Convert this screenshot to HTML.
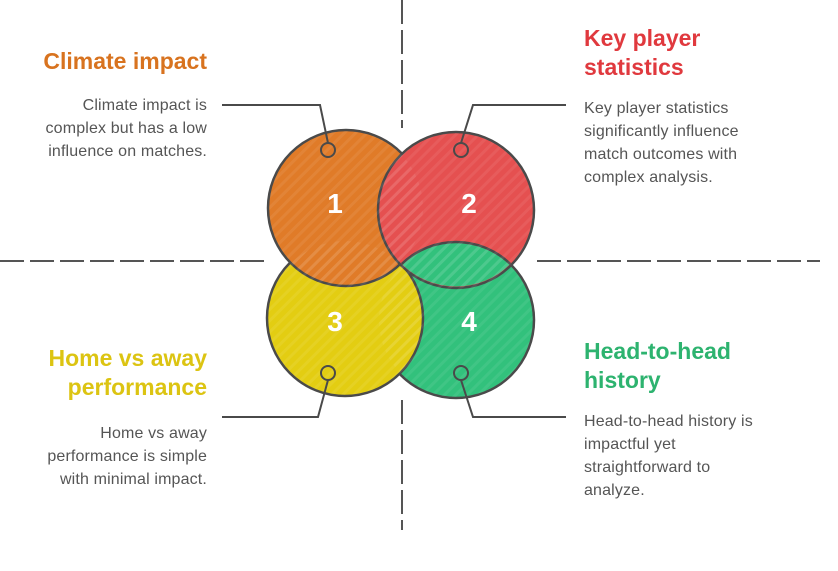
<!DOCTYPE html>
<html><head><style>
body{margin:0;background:#fff;width:838px;height:571px;overflow:hidden;position:relative;font-family:"Liberation Sans",Arial,sans-serif}
.t{position:absolute;font-weight:bold;font-size:23px;line-height:29px}
.b{position:absolute;font-size:16px;line-height:23px;color:#555;letter-spacing:0.15px;white-space:nowrap}
.r{text-align:right}
</style></head><body>
<svg width="838" height="571" style="position:absolute;left:0;top:0">
<defs>
<pattern id="st" width="8" height="8" patternUnits="userSpaceOnUse" patternTransform="rotate(-45)">
<rect width="8" height="3" fill="rgba(255,255,255,0.07)"/></pattern>
<clipPath id="c2"><circle cx="456" cy="210" r="76.5"/></clipPath>
</defs>
<g stroke="#555" stroke-width="2" stroke-dasharray="24,6" fill="none">
<line x1="402" y1="0" x2="402" y2="128"/>
<line x1="402" y1="400" x2="402" y2="530"/>
<line x1="0" y1="261" x2="270" y2="261"/>
<line x1="537" y1="261" x2="820" y2="261"/>
</g>
<g stroke="#4a4a4a" stroke-width="2.5">
<circle cx="456" cy="320" r="78" fill="#32c17c"/>
<circle cx="345" cy="318" r="78" fill="#e3cd12"/>
<circle cx="346" cy="208" r="78" fill="#e07b28"/>
<circle cx="456" cy="210" r="78" fill="#e55050"/>
<circle cx="456" cy="320" r="78" fill="#32c17c" clip-path="url(#c2)"/>
</g>
<g fill="url(#st)">
<circle cx="345" cy="318" r="77"/><circle cx="346" cy="208" r="77"/><circle cx="456" cy="210" r="77"/><circle cx="456" cy="320" r="77"/>
</g>
<g stroke="#4a4a4a" stroke-width="2" fill="none">
<polyline points="328,143 320,105 222,105"/>
<polyline points="461,143 473,105 566,105"/>
<polyline points="328,380 318,417 222,417"/>
<polyline points="461,380 473,417 566,417"/>
<circle cx="328" cy="150" r="7"/><circle cx="461" cy="150" r="7"/>
<circle cx="328" cy="373" r="7"/><circle cx="461" cy="373" r="7"/>
</g>
<g fill="#fff" font-weight="bold" font-size="28" text-anchor="middle" font-family="Liberation Sans,Arial,sans-serif">
<text x="335" y="213">1</text><text x="469" y="213">2</text>
<text x="335" y="331">3</text><text x="469" y="331">4</text>
</g>
</svg>
<div class="t r" style="right:631px;top:47px;color:#d8731f">Climate impact</div>
<div class="b r" style="right:631px;top:94px">Climate impact is<br>complex but has a low<br>influence on matches.</div>
<div class="t" style="left:584px;top:24px;color:#e0393e">Key player<br>statistics</div>
<div class="b" style="left:584px;top:97px">Key player statistics<br>significantly influence<br>match outcomes with<br>complex analysis.</div>
<div class="t r" style="right:631px;top:344px;color:#dcc412">Home vs away<br>performance</div>
<div class="b r" style="right:631px;top:422px">Home vs away<br>performance is simple<br>with minimal impact.</div>
<div class="t" style="left:584px;top:337px;color:#2db36f">Head-to-head<br>history</div>
<div class="b" style="left:584px;top:410px">Head-to-head history is<br>impactful yet<br>straightforward to<br>analyze.</div>
</body></html>
